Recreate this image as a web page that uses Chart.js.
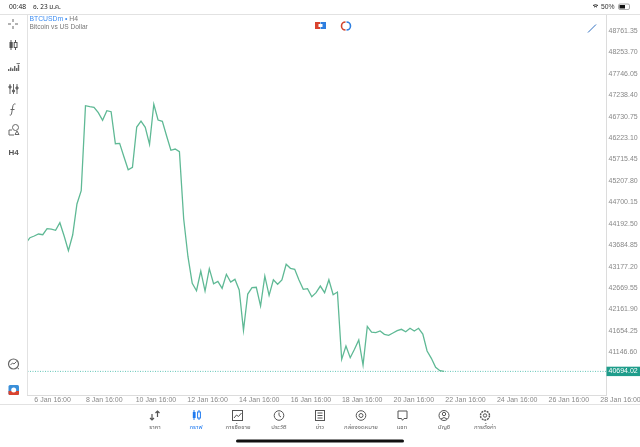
<!DOCTYPE html>
<html><head><meta charset="utf-8">
<script src="https://cdn.jsdelivr.net/npm/chart.js@4"></script>
<style>
html,body{margin:0;padding:0;background:#fff;width:640px;height:447px;overflow:hidden;font-family:"Liberation Sans",sans-serif}
#c{position:absolute;left:0;top:0}
.t{position:absolute;white-space:nowrap}
.l{position:absolute;background:#e2e2e2}
.tab{position:absolute;top:423px;width:60px;margin-left:-30px;text-align:center;font:6px "Noto Sans Thai","Noto Sans","Liberation Sans",sans-serif;color:#666;white-space:nowrap}
svg{position:absolute;overflow:visible}
</style></head><body>
<canvas id="c" width="640" height="447" style="width:640px;height:447px"></canvas>
<div class="l" style="left:0;top:13.5px;width:640px;height:1px"></div>
<div class="l" style="left:27px;top:14px;width:1px;height:381px"></div>
<div class="l" style="left:0;top:403.5px;width:640px;height:1px"></div>
<div class="t" style="left:9px;top:2.5px;font-size:6.8px;color:#222">00:48</div>
<div class="t" style="left:33px;top:2px;font:6.5px 'Noto Sans Thai','Noto Sans','Liberation Sans',sans-serif;color:#222">อ. 23 ม.ค.</div>
<div class="t" style="left:601px;top:2.5px;font-size:6.8px;color:#333">50%</div>
<svg style="left:0;top:0" width="640" height="447" viewBox="0 0 640 447" fill="none" stroke="#666" stroke-width="1">
<path d="M593 5.500q2.500-1.500 5 0M594 7q1.500-1 3 0" stroke="#222"/>
<rect x="618.500" y="4" width="11" height="5.500" rx="1.500" stroke="#888" stroke-width=".7"/><rect x="619.500" y="5" width="5.500" height="3.500" fill="#111" stroke="none"/>
<path d="M8 24h3M15 24h3M13 19v3M13 26v3"/>
<path d="M11 40v10M15.500 40v10" stroke="#555"/><rect x="9.500" y="42" width="3.200" height="6" fill="#555" stroke="none"/><rect x="14.200" y="42.500" width="2.800" height="5" fill="#fff" stroke="#555"/>
<g fill="#666" stroke="none"><rect x="8" y="69" width="1.400" height="2"/><rect x="10" y="67.500" width="1.400" height="3.500"/><rect x="12" y="68.500" width="1.400" height="2.500"/><rect x="14" y="66" width="1.400" height="5"/><rect x="16" y="68" width="1.400" height="3"/><rect x="17.800" y="65" width="1.400" height="6"/></g><path d="M16.500 63.500h3.500M18.200 63.500v1" stroke-width=".8"/>
<path d="M10 84v10M13.500 84v10M17 84v10"/><circle cx="10" cy="87" r="1.200" fill="#666"/><circle cx="13.500" cy="91" r="1.200" fill="#666"/><circle cx="17" cy="88" r="1.200" fill="#666"/>
<path d="M15.500 104c-2-.5-2.500 1-2.800 3l-1 6c-.3 2-1 2.500-2 2M10.500 109.500h4"/>
<path d="M12 130h-3v5h5M15 134.500h4l-2-3.500z"/><circle cx="15.500" cy="127.500" r="3"/>
<circle cx="13.500" cy="364" r="5" stroke-width="1.200"/><path d="M10.500 365l2-2 1.500 1 2.500-2.500M17.500 368l1.500 1"/>
<rect x="8.500" y="385" width="10.500" height="10" rx="1.500" fill="#3a8fd9" stroke="none"/><path d="M8.500 391h10.500v2.500a1.500 1.500 0 0 1-1.500 1.500h-7.500a1.500 1.500 0 0 1-1.500-1.500z" fill="#d9432f" stroke="none"/><circle cx="13.700" cy="390" r="2.500" fill="#fff" stroke="none"/>
<rect x="315" y="22" width="5" height="7" fill="#d9432f" stroke="none"/><rect x="320.500" y="22" width="5.500" height="7" fill="#2f7fe0" stroke="none"/><rect x="318.500" y="24" width="4" height="3" fill="#fff" stroke="none"/>
<path d="M345.500 22a4 4 0 0 0 0 8" stroke="#d0452f" stroke-width="1.600"/><path d="M346.500 22a4 4 0 0 1 0 8" stroke="#2f7fe0" stroke-width="1.600"/>
<path d="M588 32.500l8-8" stroke="#2f6fc0"/>
<path d="M152 420v-6M150 418l2 2 2-2M157.500 411v6M155.500 413l2-2 2 2" stroke="#555" stroke-width="1.200"/>
<path d="M194 410v10M199 410v10" stroke="#1f7af0"/><rect x="192.800" y="412" width="2.800" height="6" fill="#1f7af0" stroke="none"/><rect x="197.600" y="412" width="2.800" height="6" fill="#fff" stroke="#1f7af0"/>
<rect x="232.500" y="410.500" width="10" height="10" stroke="#555"/><path d="M234 418l2.500-3 2 1.500 3-3.500" stroke="#555"/>
<circle cx="279" cy="415.500" r="4.800" stroke="#555"/><path d="M279 412.500v3l2 1.500" stroke="#555"/>
<rect x="315.500" y="410.500" width="9" height="10" stroke="#555"/><path d="M317.500 413h5M317.500 415.500h5M317.500 418h5" stroke="#555"/>
<circle cx="361" cy="415.500" r="4.800" stroke="#555"/><circle cx="361" cy="415.500" r="2" stroke="#555"/>
<path d="M398 411h9v7.500h-3l-1.500 1.800-1-1.800h-3.500z" stroke="#555"/>
<circle cx="444" cy="415.500" r="5" stroke="#555"/><circle cx="444" cy="414" r="1.700" stroke="#555"/><path d="M441 419q3-3 6 0" stroke="#555"/>
<circle cx="485" cy="415.500" r="4.500" stroke="#555" stroke-dasharray="2 .8" stroke-width="1.400"/><circle cx="485" cy="415.500" r="1.700" stroke="#555"/>
<rect x="236" y="439.500" width="168" height="3" rx="1.500" fill="#111" stroke="none"/>
</svg>
<div class="t" style="left:5px;top:147.500px;width:17px;text-align:center;font-size:8px;font-weight:700;color:#555">H4</div>
<div class="t" style="left:29.500px;top:15px;font-size:6.8px;color:#3d8df2">BTCUSDm <span style="color:#3d8df2">•</span> <span style="color:#777">H4</span></div>
<div class="t" style="left:29.500px;top:23px;font-size:6.6px;color:#777">Bitcoin vs US Dollar</div>
<div class="tab" style="left:155px">ราคา</div>
<div class="tab" style="left:196px;color:#1f7af0">กราฟ</div>
<div class="tab" style="left:238px">การซื้อขาย</div>
<div class="tab" style="left:279px">ประวัติ</div>
<div class="tab" style="left:320px">ข่าว</div>
<div class="tab" style="left:361px">กล่องจดหมาย</div>
<div class="tab" style="left:402px">แชท</div>
<div class="tab" style="left:444px">บัญชี</div>
<div class="tab" style="left:485px">การตั้งค่า</div>
<script>
const closes=[43730,43862,43903,43950,43933,44076,44068,44038,44218,43903,43554,43926,44661,44976,46991,46967,46953,46825,46645,46872,46848,46090,46099,45782,45474,45531,46486,46628,46479,46076,47024,46652,46621,46272,45934,45964,45900,44305,43412,42781,42606,43073,42599,43128,42772,42829,42663,42995,42812,42876,42623,41668,42528,42677,42687,42243,42954,42497,42867,42758,42860,43232,43137,43113,42860,42639,42654,42464,42559,42717,42559,42867,42511,42575,40980,41295,41018,41217,41438,40845,41762,41627,41611,41651,41573,41549,41604,41658,41691,41634,41715,41651,41715,41580,41177,41004,40791,40710,40694];
const priceTicks=[48761.35,48253.70,47746.05,47238.40,46730.75,46223.10,45715.45,45207.80,44700.15,44192.50,43684.85,43177.20,42669.55,42161.90,41654.25,41146.60];
const lastPrice=40694.02;
const timeLabels=['6 Jan 16:00','8 Jan 16:00','10 Jan 16:00','12 Jan 16:00','14 Jan 16:00','16 Jan 16:00','18 Jan 16:00','20 Jan 16:00','22 Jan 16:00','24 Jan 16:00','26 Jan 16:00','28 Jan 16:00'];
const timeTickBars=[6.3,18.4,30.5,42.6,54.7,66.8,78.8,90.9,103,115.1,127.2,139.3];
const xMin=0.42,xMax=135.9,yMin=40134.55,yMax=49164.25;
const teal='#1f9d8b';
new Chart(document.getElementById('c'),{
 type:'line',
 data:{datasets:[
  {data:closes.map((v,i)=>({x:i,y:v})),borderColor:'#5fb995',borderWidth:1.3,pointRadius:0,tension:0},
  {data:[{x:xMin,y:lastPrice},{x:xMax,y:lastPrice}],borderColor:'#3fb8a6',borderWidth:.8,borderDash:[1,1.500],pointRadius:0}
 ]},
 options:{
  responsive:false,animation:false,events:[],
  layout:{padding:{left:27.5,top:14,right:0,bottom:42}},
  plugins:{legend:{display:false},tooltip:{enabled:false}},
  scales:{
   x:{type:'linear',min:xMin,max:xMax,
    grid:{display:false,drawTicks:false},border:{display:true,color:'#dcdcdc'},
    afterBuildTicks(s){s.ticks=timeTickBars.map(v=>({value:v}));},
    afterFit(s){s.height=10;s.paddingLeft=0;s.paddingRight=0;},
    ticks:{autoSkip:false,maxRotation:0,minRotation:0,padding:1,color:'#888',font:{family:'Liberation Sans',size:7},
     callback(v){const i=timeTickBars.indexOf(v);return i<0?'':timeLabels[i];}}
   },
   y:{type:'linear',position:'right',min:yMin,max:yMax,
    grid:{display:false,drawTicks:false},border:{display:true,color:'#dcdcdc'},
    afterBuildTicks(s){s.ticks=priceTicks.concat([lastPrice]).map(v=>({value:v}));},
    afterFit(s){s.width=34;},
    ticks:{autoSkip:false,padding:2.5,font:{family:'Liberation Sans',size:7},
     color:c=>c.tick.value===lastPrice?'#ffffff':'#888',
     showLabelBackdrop:c=>c.tick.value===lastPrice,
     backdropColor:teal,backdropPadding:{left:2,right:5,top:.5,bottom:.5},
     callback:v=>v.toFixed(2)}
   }
  }
 }
});
</script>
</body></html>
